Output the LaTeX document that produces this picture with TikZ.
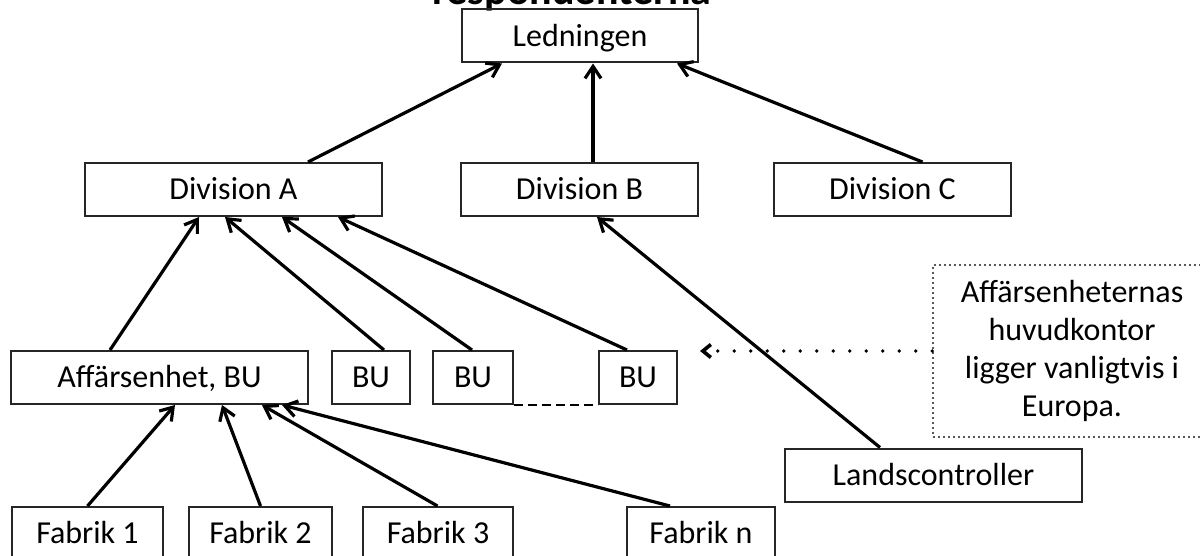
\documentclass[tikz,border=0pt]{standalone}
\usepackage{fontspec}
\setmainfont{Carlito}
\usepackage{tikz}
\usetikzlibrary{positioning, arrows.meta}

\begin{document}
\begin{tikzpicture}[
      x=1pt, y=-1pt,
      font=\fontsize{32}{38}\selectfont,
      box/.style={
        draw=black!85, line width=2pt, minimum width=#1, minimum height=53pt,
        inner sep=0pt, text height=20.6pt, text depth=0pt
      },
      box/.default=297pt,
      note/.style={
        draw=black!65, line width=1.6pt, dash pattern=on 1.6pt off 3.4pt,
        minimum width=278pt, minimum height=172pt, inner sep=0pt, align=center
      },
      arr/.style={-{Straight Barb[length=12pt,width=16pt]}, line width=3.2pt},
      dots/.style={-{Straight Barb[length=8pt,width=13pt]}, line width=3.6pt, line cap=round, dash pattern=on 0pt off 16.5pt}
    ]
      \useasboundingbox (0,0) rectangle (1200,556);
      \node[font=\bfseries\fontsize{42}{50}\selectfont, anchor=base] (title) at (572,5) {respondenterna};

      \node[box=236pt] (led) at (580,36) {Ledningen};
      \node[box] (divA) at (233.5,189.5) {Division A};
      \node[box=237pt] (divB) at (579.5,189.5) {Division B};
      \node[box=237pt] (divC) at (892.5,189.5) {Division C};

      \node[box] (aff) at (159.5,377.5) {Affärsenhet, BU};
      \node[box=78pt, right=22pt of aff] (bu1) {BU};
      \node[box=80pt, right=21pt of bu1] (bu2) {BU};
      \node[box=78pt, right=84pt of bu2] (bu3) {BU};

      \node[box=151pt] (fab1) at (87.5,533.5) {Fabrik 1};
      \node[box=143pt, right=24pt of fab1] (fab2) {Fabrik 2};
      \node[box=150pt, right=29pt of fab2] (fab3) {Fabrik 3};
      \node[box=148pt] (fabn) at (701,533.5) {Fabrik n};
      \node[box] (land) at (933.5,475) {Landscontroller};

      \node[note] (note) at (1072,351) {Affärsenheternas\\huvudkontor\\ligger vanligtvis i\\Europa.};
      \coordinate (tip) at (700,351);

      \foreach \a/\sa/\b/\sb in {divA/74.5/led/-78, divB/13.5/led/13, divC/30/led/97,
          aff/-49.5/divA/-34.5, bu1/13/divA/-8.5, bu2/-1/divA/48.5, bu3/-11/divA/104.5,
          fab1/0/aff/15.5, fab2/0/aff/62.5, fab3/-0.5/aff/102.5, fabn/-31/aff/122.5,
          land/-53.5/divB/17.5}
        {\draw[arr] ([xshift=\sa pt]\a.north) -- ([xshift=\sb pt]\b.south);}

      \draw[line width=2.6pt, dash pattern=on 9pt off 5pt] (bu2.south east) -- (bu3.south west);
      \draw[dots] (note.west) -- (tip);
    \end{tikzpicture}
\end{document}
